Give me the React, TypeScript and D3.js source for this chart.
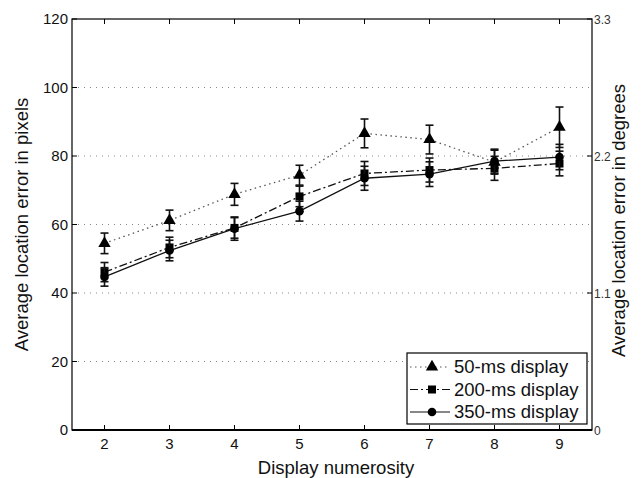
import React from 'react';
import * as d3 from 'd3';

// values
const numerosity = [2, 3, 4, 5, 6, 7, 8, 9];
const ms50 = [54.5, 61.2, 68.8, 74.4, 86.6, 84.8, 78.2, 88.4];
const ms50Err = [3, 3, 3.2, 2.9, 4.2, 4.2, 3.5, 5.9];
const ms200 = [46.1, 53.3, 59.0, 68.2, 74.9, 75.9, 76.4, 77.8];
const ms200Err = [2.8, 3, 3, 3, 3.5, 3.5, 3.5, 3.6];
const ms350 = [44.7, 52.4, 58.8, 63.9, 73.5, 74.7, 78.5, 79.7];
const ms350Err = [2.7, 3, 3.4, 2.9, 3.5, 3.6, 3.5, 3.7];

const yTicks = [0, 20, 40, 60, 80, 100, 120];
const gridTicks = [20, 40, 60, 80, 100];
const rightTicks = [0, 40, 80, 120];
const rightLabels = ['0', '1.1', '2.2', '3.3'];
const legendLabels = ['50-ms display', '200-ms display', '350-ms display'];

const W = 641;
const H = 478;
const m = { left: 72, right: 592, top: 19, bottom: 430 };
const font = '"Liberation Sans", Arial, Helvetica, sans-serif';

const series = [
  { values: ms50, err: ms50Err, dash: '1.5,3.5', marker: 'triangle', stroke: '#555' },
  { values: ms200, err: ms200Err, dash: '8,3,2,3', marker: 'square', stroke: '#111' },
  { values: ms350, err: ms350Err, dash: null, marker: 'circle', stroke: '#111' },
];

function Marker({ type, x, y }: { type: string; x: number; y: number }) {
  if (type === 'triangle') {
    const sym = d3.symbol(d3.symbolTriangle, 66)();
    return <path d={sym || ''} transform={`translate(${x},${y})`} fill="#000" />;
  }
  if (type === 'square') {
    return <rect x={x - 4} y={y - 4} width={8} height={8} fill="#000" />;
  }
  return <circle cx={x} cy={y} r={4.3} fill="#000" />;
}

export default function App() {
  const x = d3.scaleLinear().domain([1.5, 9.5]).range([m.left, m.right]);
  const y = d3.scaleLinear().domain([0, 120]).range([m.bottom, m.top]);

  const line = d3
    .line<number>()
    .x((_, i) => x(numerosity[i]))
    .y((d) => y(d));

  const legend = { x: 407, y: 353, w: 180, h: 71 };

  return (
    <svg
      width={W}
      height={H}
      style={{ position: 'absolute', left: 0, top: 0, background: '#fff' }}
      fontFamily={font}
    >
      {/* grid */}
      {gridTicks.map((t) => (
        <line
          key={'g' + t}
          x1={m.left}
          x2={m.right}
          y1={y(t)}
          y2={y(t)}
          stroke="#888"
          strokeWidth={1}
          strokeDasharray="1,5"
        />
      ))}

      {/* series */}
      {series.map((s, si) => (
        <g key={'s' + si}>
          <path
            d={line(s.values) || ''}
            fill="none"
            stroke={s.stroke}
            strokeWidth={1.3}
            strokeDasharray={s.dash || undefined}
          />
          {s.values.map((v, i) => {
            const cx = x(numerosity[i]);
            const top = y(v + s.err[i]);
            const bot = y(v - s.err[i]);
            return (
              <g key={i} stroke="#111" strokeWidth={1.6}>
                <line x1={cx} x2={cx} y1={top} y2={bot} />
                <line x1={cx - 4} x2={cx + 4} y1={top} y2={top} />
                <line x1={cx - 4} x2={cx + 4} y1={bot} y2={bot} />
              </g>
            );
          })}
          {s.values.map((v, i) => (
            <Marker key={'m' + i} type={s.marker} x={x(numerosity[i])} y={y(v)} />
          ))}
        </g>
      ))}

      {/* frame */}
      <rect
        x={m.left}
        y={m.top}
        width={m.right - m.left}
        height={m.bottom - m.top}
        fill="none"
        stroke="#000"
        strokeWidth={1.2}
      />
      <line x1={m.left} x2={m.right} y1={m.bottom} y2={m.bottom} stroke="#000" strokeWidth={2} />

      {/* x ticks */}
      {numerosity.map((n) => (
        <g key={'x' + n}>
          <line x1={x(n)} x2={x(n)} y1={m.bottom} y2={m.bottom - 5} stroke="#000" />
          <line x1={x(n)} x2={x(n)} y1={m.top} y2={m.top + 5} stroke="#000" />
          <text x={x(n)} y={449} textAnchor="middle" fontSize={15} fill="#111">
            {n}
          </text>
        </g>
      ))}

      {/* left y ticks */}
      {yTicks.map((t) => (
        <g key={'y' + t}>
          <line x1={m.left} x2={m.left + 5} y1={y(t)} y2={y(t)} stroke="#000" />
          <text x={68} y={y(t) + 5} textAnchor="end" fontSize={15} fill="#111">
            {t}
          </text>
        </g>
      ))}

      {/* right y ticks */}
      {rightTicks.map((t, i) => (
        <g key={'r' + t}>
          <line x1={m.right} x2={m.right - 5} y1={y(t)} y2={y(t)} stroke="#000" />
          <text x={594} y={y(t) + 4.5} fontSize={12} fill="#333">
            {rightLabels[i]}
          </text>
        </g>
      ))}

      {/* axis titles */}
      <text x={336} y={474} textAnchor="middle" fontSize={18.5} fill="#111">
        Display numerosity
      </text>
      <text
        transform={`translate(28,${(m.top + m.bottom) / 2}) rotate(-90)`}
        textAnchor="middle"
        fontSize={18.5}
        fill="#111"
      >
        Average location error in pixels
      </text>
      <text
        transform={`translate(625,${(m.top + m.bottom) / 2 - 4}) rotate(-90)`}
        textAnchor="middle"
        fontSize={18.5}
        fill="#111"
      >
        Average location error in degrees
      </text>

      {/* legend */}
      <rect
        x={legend.x}
        y={legend.y}
        width={legend.w}
        height={legend.h}
        fill="#fff"
        stroke="#000"
        strokeWidth={1.2}
      />
      {series.map((s, i) => {
        const ly = legend.y + 14 + i * 22.5;
        return (
          <g key={'l' + i}>
            <line
              x1={legend.x + 3}
              x2={legend.x + 43}
              y1={ly}
              y2={ly}
              stroke={s.stroke}
              strokeWidth={1.2}
              strokeDasharray={s.dash || undefined}
            />
            <Marker type={s.marker} x={legend.x + 25} y={ly} />
            <text x={legend.x + 47} y={ly + 6} fontSize={18.5} fill="#111">
              {legendLabels[i]}
            </text>
          </g>
        );
      })}
    </svg>
  );
}
